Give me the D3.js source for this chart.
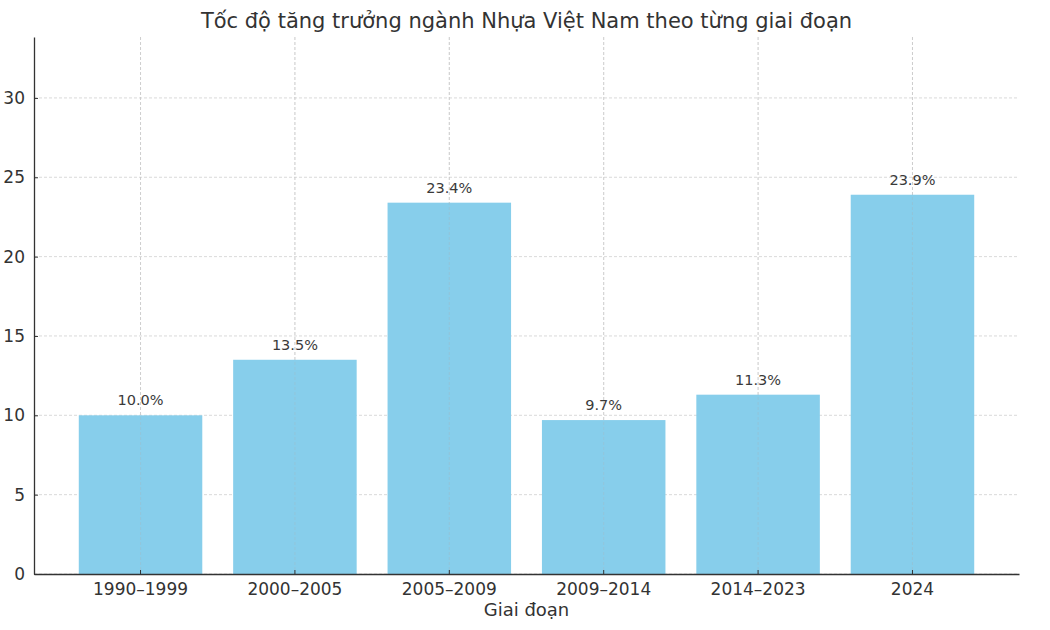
<!DOCTYPE html>
<html>
<head>
<meta charset="utf-8">
<script src="https://cdn.jsdelivr.net/npm/d3@7"></script>
<style>
  body { margin: 0; background: #fff; }
  text { font-family: "DejaVu Sans", sans-serif; }
</style>
</head>
<body>
<div id="chart-container"></div>
<script>
// Data
const periods = ["1990–1999", "2000–2005", "2005–2009", "2009–2014", "2014–2023", "2024"];
const growthRates = [10.0, 13.5, 23.4, 9.7, 11.3, 23.9];
const yTicks = [0, 5, 10, 15, 20, 25, 30];

const data = periods.map((p, i) => ({ period: p, value: growthRates[i] }));

// Chart dimensions and margins
const width = 1050;
const height = 630;
const marginTop = 37;
const marginRight = 31;
const marginBottom = 56;
const marginLeft = 34;

const x = d3.scaleBand()
  .domain(periods)
  .range([marginLeft, width - marginRight])
  .paddingInner(0.2)
  .paddingOuter(0.29);

const y = d3.scaleLinear()
  .domain([0, 33.84])
  .range([height - marginBottom, marginTop]);

const svg = d3.create("svg")
  .attr("width", width)
  .attr("height", height)
  .attr("viewBox", [0, 0, width, height]);

// Gridlines
svg.append("g")
  .selectAll(".y-grid")
  .data(yTicks)
  .join("line")
  .attr("class", "y-grid")
  .attr("x1", marginLeft)
  .attr("x2", width - marginRight)
  .attr("y1", d => y(d))
  .attr("y2", d => y(d))
  .attr("stroke", "#d0d0d0")
  .attr("stroke-width", 0.8)
  .attr("stroke-dasharray", "3,2");

svg.append("g")
  .selectAll(".x-grid")
  .data(periods)
  .join("line")
  .attr("class", "x-grid")
  .attr("x1", d => x(d) + x.bandwidth() / 2)
  .attr("x2", d => x(d) + x.bandwidth() / 2)
  .attr("y1", marginTop)
  .attr("y2", height - marginBottom)
  .attr("stroke", "#d0d0d0")
  .attr("stroke-width", 0.8)
  .attr("stroke-dasharray", "3,2");

// Bars
svg.append("g")
  .selectAll("rect")
  .data(data)
  .join("rect")
  .attr("x", d => x(d.period))
  .attr("y", d => y(d.value))
  .attr("width", x.bandwidth())
  .attr("height", d => y(0) - y(d.value))
  .attr("fill", "#87ceeb");

// Grid shows faintly through the bars
svg.append("g")
  .selectAll("line")
  .data(periods)
  .join("line")
  .attr("x1", d => x(d) + x.bandwidth() / 2)
  .attr("x2", d => x(d) + x.bandwidth() / 2)
  .attr("y1", marginTop)
  .attr("y2", height - marginBottom)
  .attr("stroke", "#b0b0b0")
  .attr("stroke-opacity", 0.35)
  .attr("stroke-width", 0.8)
  .attr("stroke-dasharray", "3,2");

// Value labels
svg.append("g")
  .selectAll("text")
  .data(data)
  .join("text")
  .attr("x", d => x(d.period) + x.bandwidth() / 2)
  .attr("y", d => y(d.value) - 10)
  .attr("text-anchor", "middle")
  .attr("font-size", "14.5px")
  .attr("fill", "#3a3a3a")
  .text(d => d.value.toFixed(1) + "%");

// Axes
svg.append("g")
  .attr("transform", `translate(0,${height - marginBottom})`)
  .call(d3.axisBottom(x).tickSize(-4).tickPadding(9).tickSizeOuter(0))
  .call(g => g.select(".domain").attr("stroke", "#333").attr("stroke-width", 1.3))
  .call(g => g.selectAll(".tick line").attr("stroke", "#333"))
  .call(g => g.selectAll(".tick text").attr("font-size", "17px").attr("fill", "#333")
    .attr("font-family", "DejaVu Sans"));

svg.append("g")
  .attr("transform", `translate(${marginLeft},0)`)
  .call(d3.axisLeft(y).tickValues(yTicks).tickSize(-4).tickPadding(9).tickSizeOuter(0))
  .call(g => g.select(".domain").attr("stroke", "#333").attr("stroke-width", 1.3))
  .call(g => g.selectAll(".tick line").attr("stroke", "#333"))
  .call(g => g.selectAll(".tick text").attr("font-size", "17px").attr("fill", "#333")
    .attr("font-family", "DejaVu Sans"));

// Axis label
svg.append("text")
  .attr("x", (marginLeft + width - marginRight) / 2)
  .attr("y", 616)
  .attr("text-anchor", "middle")
  .attr("font-size", "18px")
  .attr("fill", "#333")
  .text("Giai đoạn");

// Title
svg.append("text")
  .attr("x", (marginLeft + width - marginRight) / 2)
  .attr("y", 28)
  .attr("text-anchor", "middle")
  .attr("font-size", "21px")
  .attr("fill", "#333")
  .text("Tốc độ tăng trưởng ngành Nhựa Việt Nam theo từng giai đoạn");

document.getElementById("chart-container").appendChild(svg.node());
</script>
</body>
</html>
